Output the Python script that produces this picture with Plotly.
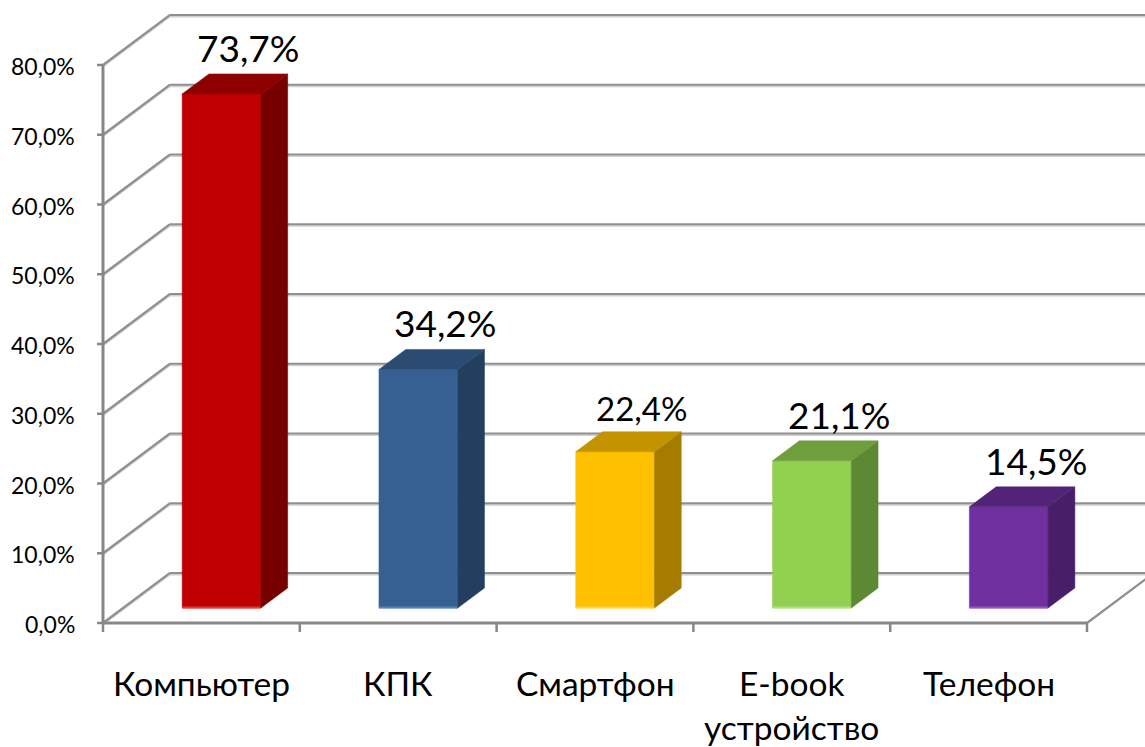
import plotly.graph_objects as go

# ---- data ----
categories = ["Компьютер", "КПК", "Смартфон", "E-book<br>устройство", "Телефон"]
values = [73.7, 34.2, 22.4, 21.1, 14.5]
tick_values = [0, 10, 20, 30, 40, 50, 60, 70, 80]

# ---- style ----
front_colors = ["#C00000", "#376092", "#FFC000", "#92D050", "#7030A0"]
top_colors = ["#8E0000", "#2B4B72", "#C49300", "#6E9F3C", "#532379"]
side_colors = ["#760000", "#243E5F", "#A67C00", "#5E8934", "#481E68"]
edge_colors = ["#E03A3A", "#5A82B4", "#FFD24D", "#B2E07A", "#9058C0"]
FONT = "Lato"

# projection (in data units)
DX = 0.3405      # depth shift in category units
DY = 7.17        # depth shift in percent units
BAR_W = 0.4
D0, D1 = 0.3, 0.7  # bar depth span
N = len(categories)

def fmt(v):
    return f"{v:.1f}".replace(".", ",") + "%"

fig = go.Figure()
shapes = []
annotations = []

GRID = "#8f8f8f"
GRID_LIGHT = "#d0d0d0"
AXIS = "#878787"
px_y = 1 / 6.975  # one pixel in y data units

# back wall + left wall gridlines
for t in tick_values:
    for off, col, w in [(-1.6 * px_y, GRID_LIGHT, 1.6), (0, GRID, 2.2)]:
        shapes.append(dict(type="line", xref="x", yref="y", layer="below",
                           x0=DX, y0=t + DY + off, x1=N + DX + 1, y1=t + DY + off,
                           line=dict(color=col, width=w)))
        shapes.append(dict(type="line", xref="x", yref="y", layer="below",
                           x0=0, y0=t + off, x1=DX, y1=t + DY + off,
                           line=dict(color=col, width=w)))
    # y tick
    shapes.append(dict(type="line", xref="x", yref="y", layer="below",
                       x0=-6 / 196.8, y0=t, x1=0, y1=t,
                       line=dict(color=AXIS, width=2.5)))
    annotations.append(dict(x=-26 / 196.8, y=t, xref="x", yref="y", text=fmt(t),
                            showarrow=False, xanchor="right", yanchor="middle",
                            yshift=-1, font=dict(family=FONT, size=23, color="#000")))

# front axis lines
shapes.append(dict(type="line", xref="x", yref="y", layer="below",
                   x0=0, y0=0, x1=0, y1=tick_values[-1],
                   line=dict(color=AXIS, width=3)))
shapes.append(dict(type="line", xref="x", yref="y", layer="below",
                   x0=0, y0=0, x1=N, y1=0, line=dict(color=AXIS, width=3)))
# floor right edge
shapes.append(dict(type="line", xref="x", yref="y", layer="below",
                   x0=N, y0=0, x1=N + DX, y1=DY, line=dict(color=GRID, width=2.2)))
# category ticks
for i in range(N + 1):
    shapes.append(dict(type="line", xref="x", yref="y", layer="below",
                       x0=i, y0=0, x1=i, y1=-9 * px_y,
                       line=dict(color=AXIS, width=2.5)))

# bars
for i, (cat, v) in enumerate(zip(categories, values)):
    cx = i + 0.5 + D0 * DX
    b = D0 * DY
    xl, xr = cx - BAR_W / 2, cx + BAR_W / 2
    ddx = (D1 - D0) * DX
    ddy = (D1 - D0) * DY
    # front face
    fig.add_trace(go.Scatter(x=[xl, xr, xr, xl, xl], y=[b, b, b + v, b + v, b],
                             fill="toself", fillcolor=front_colors[i], mode="lines",
                             line=dict(width=0.5, color=front_colors[i]),
                             hoverinfo="skip", showlegend=False))
    # bottom edge highlight
    fig.add_trace(go.Scatter(x=[xl, xr], y=[b + 0.5 * px_y, b + 0.5 * px_y], mode="lines",
                             line=dict(width=2, color=edge_colors[i]),
                             hoverinfo="skip", showlegend=False))
    # side face
    fig.add_trace(go.Scatter(x=[xr, xr + ddx, xr + ddx, xr, xr],
                             y=[b, b + ddy, b + v + ddy, b + v, b],
                             fill="toself", fillcolor=side_colors[i], mode="lines",
                             line=dict(width=0.5, color=side_colors[i]),
                             hoverinfo="skip", showlegend=False))
    # top face
    fig.add_trace(go.Scatter(x=[xl, xr, xr + ddx, xl + ddx, xl],
                             y=[b + v, b + v, b + v + ddy, b + v + ddy, b + v],
                             fill="toself", fillcolor=top_colors[i], mode="lines",
                             line=dict(width=0.5, color=top_colors[i]),
                             hoverinfo="skip", showlegend=False))
    # value label
    annotations.append(dict(x=cx + ddx, y=b + v + ddy, xref="x", yref="y",
                            text=fmt(v), showarrow=False, xanchor="center",
                            yanchor="bottom", yshift=2,
                            font=dict(family=FONT, size=37 if v != 22.4 else 33,
                                      color="#000")))
    # category label
    annotations.append(dict(x=i + 0.5, y=-38 * px_y, xref="x", yref="y", text=cat,
                            showarrow=False, xanchor="center", yanchor="top",
                            font=dict(family=FONT, size=33.5, color="#000")))

fig.update_layout(
    width=1145, height=747, autosize=False,
    margin=dict(l=0, r=0, t=0, b=0),
    paper_bgcolor="white", plot_bgcolor="white",
    xaxis=dict(range=[-103 / 196.8, (1145 - 103) / 196.8], visible=False, fixedrange=True),
    yaxis=dict(range=[(623 - 747) / 6.975, 623 / 6.975], visible=False, fixedrange=True),
    shapes=shapes, annotations=annotations, showlegend=False,
)

fig.write_html("out.html", config={"displayModeBar": False},
               post_script="document.body.style.margin='0';")
